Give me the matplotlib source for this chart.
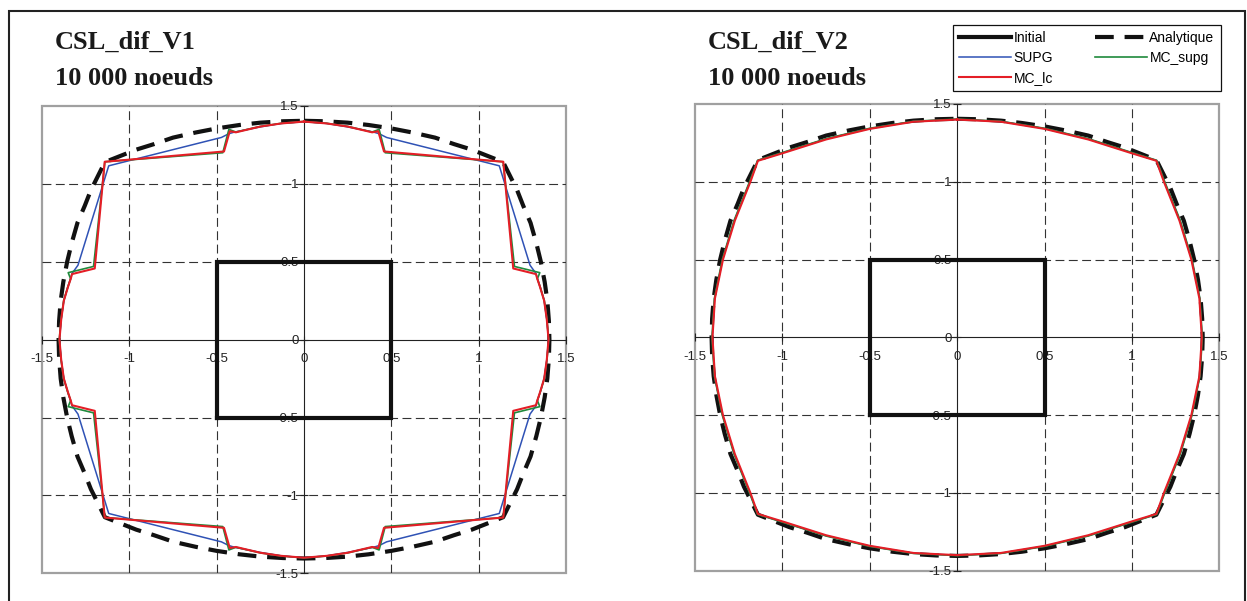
import numpy as np
import matplotlib
matplotlib.use("Agg")
import matplotlib.pyplot as plt
from matplotlib.ticker import FuncFormatter
from matplotlib.patches import Rectangle

# ---- data: first-quadrant points (curves are symmetric) ----
square_x = [-0.5, 0.5, 0.5, -0.5, -0.5]
square_y = [-0.5, -0.5, 0.5, 0.5, -0.5]

ana_x = [0.0, 0.12, 0.25, 0.37, 0.5, 0.62, 0.75, 0.86, 0.96, 1.05, 1.14,
         1.18, 1.22, 1.255, 1.297, 1.33, 1.356, 1.378, 1.393, 1.402, 1.405]
ana_y = [1.405, 1.402, 1.393, 1.378, 1.356, 1.33, 1.297, 1.255, 1.22, 1.18, 1.14,
         1.05, 0.96, 0.86, 0.75, 0.62, 0.5, 0.37, 0.25, 0.12, 0.0]

# CSL_dif_V1
v1_supg_x = [0.0, 0.13, 0.25, 0.40, 0.43, 0.473, 1.118, 1.294, 1.328, 1.337, 1.352, 1.375, 1.390, 1.400]
v1_supg_y = [1.400, 1.388, 1.366, 1.332, 1.322, 1.298, 1.116, 0.478, 0.425, 0.39, 0.339, 0.25, 0.13, 0.0]
v1_mcs_x = [0.0, 0.13, 0.25, 0.39, 0.43, 0.465, 1.14, 1.205, 1.35, 1.336, 1.352, 1.376, 1.391, 1.401]
v1_mcs_y = [1.401, 1.389, 1.369, 1.333, 1.35, 1.200, 1.142, 0.47, 0.43, 0.39, 0.339, 0.25, 0.13, 0.0]
v1_mclc_x = [0.0, 0.13, 0.25, 0.39, 0.425, 0.458, 1.141, 1.198, 1.328, 1.335, 1.351, 1.375, 1.390, 1.400]
v1_mclc_y = [1.400, 1.388, 1.368, 1.331, 1.338, 1.208, 1.142, 0.457, 0.421, 0.393, 0.339, 0.25, 0.13, 0.0]

# CSL_dif_V2
v2_supg_x = [0.0, 0.25, 0.5, 0.75, 1.0, 1.141, 1.186, 1.275, 1.342, 1.388, 1.401]
v2_supg_y = [1.401, 1.388, 1.342, 1.275, 1.186, 1.137, 1.0, 0.75, 0.5, 0.25, 0.0]
v2_mcs_x = [0.0, 0.25, 0.5, 0.75, 1.0, 1.142, 1.188, 1.277, 1.344, 1.389, 1.403]
v2_mcs_y = [1.403, 1.389, 1.344, 1.277, 1.188, 1.138, 1.0, 0.75, 0.5, 0.25, 0.0]
v2_mclc_x = [0.0, 0.25, 0.5, 0.75, 1.0, 1.14, 1.183, 1.272, 1.340, 1.386, 1.400]
v2_mclc_y = [1.400, 1.386, 1.340, 1.272, 1.183, 1.135, 1.0, 0.75, 0.5, 0.25, 0.0]

ticks = [-1.5, -1, -0.5, 0, 0.5, 1, 1.5]
grid_vals = [-1, -0.5, 0.5, 1]


def closed(xs, ys):
    # mirror the first-quadrant points into the other three quadrants
    xs = np.asarray(xs)
    ys = np.asarray(ys)
    X = np.concatenate([xs, xs[::-1], -xs, -xs[::-1]])
    Y = np.concatenate([ys, -ys[::-1], -ys, ys[::-1]])
    return X, Y


def fmt(v, pos):
    return '%g' % v


blue = '#2f52b5'
green = '#1f8a3c'
red = '#e41e26'

fig = plt.figure(figsize=(12.47, 6.01), dpi=100)
ax1 = fig.add_axes([42 / 1247, 1 - 573.3 / 601, 524 / 1247, 467.3 / 601])
ax2 = fig.add_axes([695 / 1247, 1 - 570.7 / 601, 524.3 / 1247, 466.7 / 601])

panels = [
    (ax1, (v1_supg_x, v1_supg_y), (v1_mcs_x, v1_mcs_y), (v1_mclc_x, v1_mclc_y)),
    (ax2, (v2_supg_x, v2_supg_y), (v2_mcs_x, v2_mcs_y), (v2_mclc_x, v2_mclc_y)),
]

for ax, supg, mcs, mclc in panels:
    ax.set_xlim(-1.5, 1.5)
    ax.set_ylim(-1.5, 1.5)
    for g in grid_vals:
        ax.axhline(g, color='#333333', lw=0.8, ls=(0, (8, 4)), zorder=1)
        ax.axvline(g, color='#333333', lw=0.8, ls=(0, (8, 4)), zorder=1)

    hi, = ax.plot(square_x, square_y, color='#111111', lw=3.0, zorder=4, label='Initial',
                  solid_joinstyle='miter')
    ha, = ax.plot(*closed(ana_x, ana_y), color='#111111', lw=3.0, ls=(0, (4.5, 2.6)),
                  zorder=5, label='Analytique')
    hs, = ax.plot(*closed(*supg), color=blue, lw=1.1, zorder=6, label='SUPG')
    hg, = ax.plot(*closed(*mcs), color=green, lw=1.2, zorder=7, label='MC_supg')
    hr, = ax.plot(*closed(*mclc), color=red, lw=1.5, zorder=8, label='MC_lc')

    ax.spines['left'].set_position('zero')
    ax.spines['bottom'].set_position('zero')
    ax.spines['top'].set_visible(False)
    ax.spines['right'].set_visible(False)
    for s in ('left', 'bottom'):
        ax.spines[s].set_color('#222222')
        ax.spines[s].set_linewidth(0.8)
        ax.spines[s].set_zorder(3)
    ax.patch.set_edgecolor('#a0a0a0')
    ax.patch.set_linewidth(1.6)

    ax.set_xticks(ticks)
    ax.set_yticks(ticks)
    ax.xaxis.set_major_formatter(FuncFormatter(fmt))
    ax.yaxis.set_major_formatter(FuncFormatter(fmt))
    ax.tick_params(axis='x', direction='inout', length=6, width=0.8, color='#222222',
                   labelsize=9.5, labelcolor='#222222', pad=6.5)
    ax.tick_params(axis='y', direction='inout', length=6, width=0.8, color='#222222',
                   labelsize=9.5, labelcolor='#222222', pad=1)
    for lab in ax.get_xticklabels() + ax.get_yticklabels():
        lab.set_family('Liberation Sans')

# titles
for x0, name in [(55 / 1247, 'CSL_dif_V1'), (708 / 1247, 'CSL_dif_V2')]:
    fig.text(x0, 1 - 48.3 / 601, name, family='Liberation Serif', weight='bold',
             fontsize=19, va='baseline', ha='left', color='#1a1a1a')
    fig.text(x0, 1 - 85 / 601, '10 000 noeuds', family='Liberation Serif', weight='bold',
             fontsize=19, va='baseline', ha='left', color='#1a1a1a')

# legend (column-major fill: left column Initial/SUPG/MC_lc)
leg = fig.legend([hi, hs, hr, ha, hg], ['Initial', 'SUPG', 'MC_lc', 'Analytique', 'MC_supg'],
                 loc='upper left', bbox_to_anchor=(953 / 1247, 1 - 25 / 601), ncol=2,
                 borderaxespad=0, fancybox=False, edgecolor='#111111', framealpha=1,
                 prop={'family': 'Liberation Sans', 'size': 10}, handlelength=3.75,
                 handletextpad=0.15, columnspacing=3.05, labelspacing=0.42, borderpad=0.45)
leg.get_frame().set_linewidth(0.9)

# outer border
fig.add_artist(Rectangle((9 / 1247, -0.05), (1245 - 9) / 1247, 1.05 - 11 / 601,
                         transform=fig.transFigure, fill=False, lw=1.5, ec='#222222'))

fig.savefig('out.png', dpi=100)
